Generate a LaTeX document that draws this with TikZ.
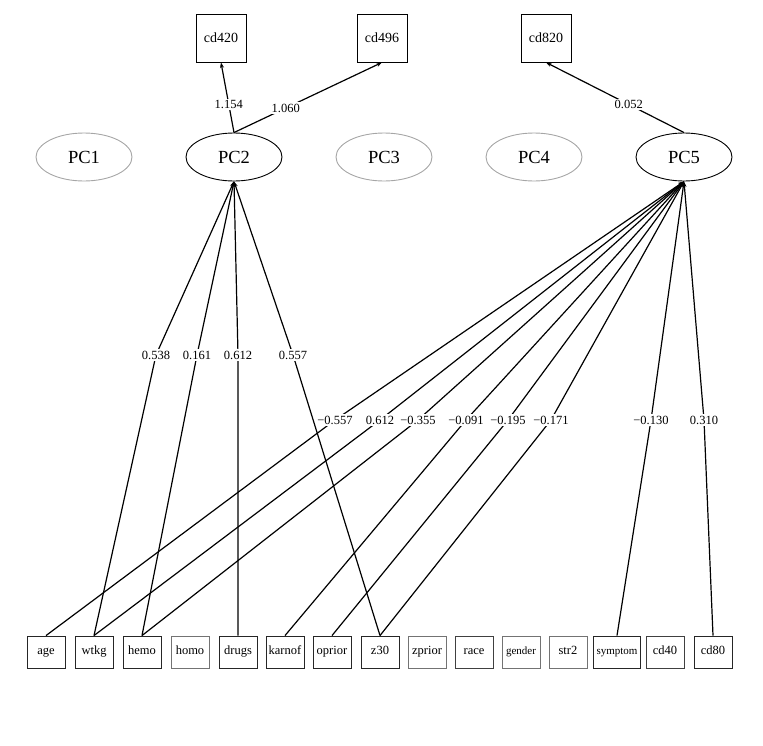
\documentclass[tikz,border=0pt]{standalone}
\usepackage{fontspec}
\setmainfont{Liberation Serif}
\usetikzlibrary{arrows.meta,shapes.geometric}
\begin{document}
\begin{tikzpicture}[x=1pt,y=-1pt,
  pcon/.style={ellipse,draw=black,line width=0.9pt,minimum width=96pt,minimum height=48pt,inner sep=0pt,font=\fontsize{18.5}{20}\selectfont},
  pcoff/.style={pcon,draw=black!35},
  topbox/.style={rectangle,draw=black,line width=0.9pt,minimum width=50pt,minimum height=48pt,inner sep=1pt,text height=9pt,text depth=0pt,font=\fontsize{14}{16}\selectfont},
  varbox/.style={rectangle,draw=black!85,line width=0.9pt,minimum width=38pt,minimum height=32pt,inner sep=1pt,text height=7pt,text depth=2.5pt,font=\fontsize{12.5}{14}\selectfont},
  varoff/.style={varbox,draw=black!55},
  lab/.style={fill=white,inner sep=1.5pt,font=\fontsize{12.5}{14}\selectfont},
  arr/.style={line width=1.2pt,-{Stealth[length=5.5pt,width=4pt]}},
]
\useasboundingbox (0,0) rectangle (763,745);
% top boxes
\node[topbox] (cd420) at (221,38) {cd420};
\node[topbox] (cd496) at (382,38) {cd496};
\node[topbox] (cd820) at (546,38) {cd820};
% components
\node[pcoff] (PC1) at (84,157) {PC1};
\node[pcon]  (PC2) at (234,157) {PC2};
\node[pcoff] (PC3) at (384,157) {PC3};
\node[pcoff] (PC4) at (534,157) {PC4};
\node[pcon]  (PC5) at (684,157) {PC5};
% variables
\node[varbox] (age)    at (46,652) {age};
\node[varbox] (wtkg)   at (94,652) {wtkg};
\node[varbox] (hemo)   at (142,652) {hemo};
\node[varoff] (homo)   at (190,652) {homo};
\node[varbox] (drugs)  at (238,652) {drugs};
\node[varbox] (karnof) at (285,652) {karnof};
\node[varbox] (oprior) at (332,652) {oprior};
\node[varbox] (z30)    at (380,652) {z30};
\node[varoff] (zprior) at (427,652) {zprior};
\node[varbox,draw=black!75] (race) at (474,652) {race};
\node[varoff,font=\fontsize{11}{13}\selectfont] (gender) at (521,652) {gender};
\node[varoff] (str2)   at (568,652) {str2};
\node[varbox,minimum width=47pt,font=\fontsize{11}{13}\selectfont] (symptom) at (617,652) {symptom};
\node[varbox,draw=black!75] (cd40) at (665,652) {cd40};
\node[varbox] (cd80)   at (713,652) {cd80};
% top connectors
\draw[arr] (PC2.north) -- (cd420.south) node[lab,pos=0.4] {1.154};
\draw[arr] (PC2.north) -- (cd496.south) node[lab,pos=0.35] {1.060};
\draw[arr] (PC5.north) -- (cd820.south) node[lab,pos=0.4] {0.052};
% label points
\coordinate (a1) at (156,355);
\coordinate (a2) at (197,355);
\coordinate (a3) at (238,355);
\coordinate (a4) at (293,355);
\coordinate (b1) at (335,420);
\coordinate (b2) at (380,420);
\coordinate (b3) at (418,420);
\coordinate (b4) at (466,420);
\coordinate (b5) at (508,420);
\coordinate (b6) at (551,420);
\coordinate (b7) at (651,420);
\coordinate (b8) at (704,420);
% PC2 loadings
\draw[arr] (wtkg.north) -- (a1) -- (PC2.south);
\draw[arr] (hemo.north) -- (a2) -- (PC2.south);
\draw[arr] (drugs.north) -- (a3) -- (PC2.south);
\draw[arr] (z30.north) -- (a4) -- (PC2.south);
% PC5 loadings
\draw[arr] (age.north) -- (b1) -- (PC5.south);
\draw[arr] (wtkg.north) -- (b2) -- (PC5.south);
\draw[arr] (hemo.north) -- (b3) -- (PC5.south);
\draw[arr] (karnof.north) -- (b4) -- (PC5.south);
\draw[arr] (oprior.north) -- (b5) -- (PC5.south);
\draw[arr] (z30.north) -- (b6) -- (PC5.south);
\draw[arr] (symptom.north) -- (b7) -- (PC5.south);
\draw[arr] (cd80.north) -- (b8) -- (PC5.south);
% labels
\node[lab] at (a1) {0.538};
\node[lab] at (a2) {0.161};
\node[lab] at (a3) {0.612};
\node[lab] at (a4) {0.557};
\node[lab] at (b1) {−0.557};
\node[lab] at (b2) {0.612};
\node[lab] at (b3) {−0.355};
\node[lab] at (b4) {−0.091};
\node[lab] at (b5) {−0.195};
\node[lab] at (b6) {−0.171};
\node[lab] at (b7) {−0.130};
\node[lab] at (b8) {0.310};
\end{tikzpicture}
\end{document}
